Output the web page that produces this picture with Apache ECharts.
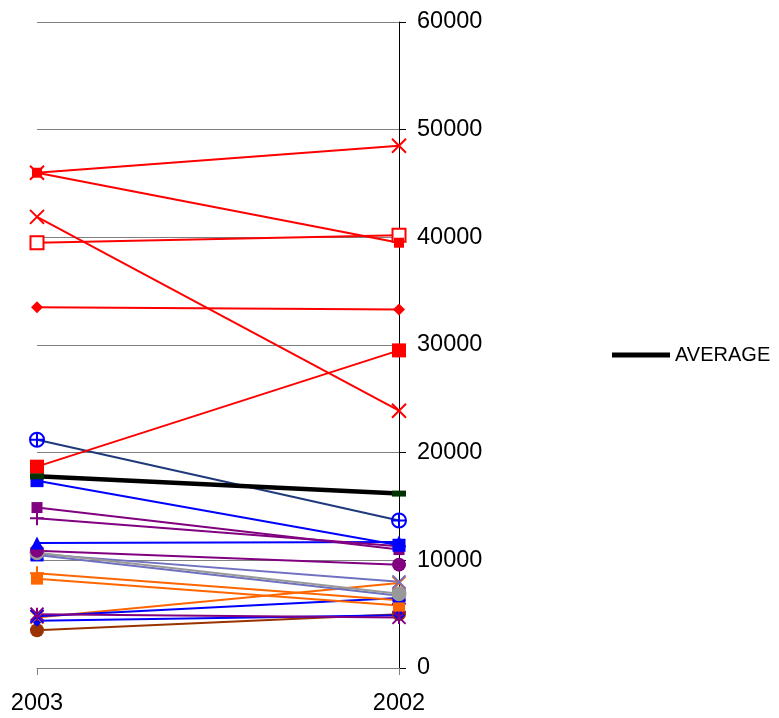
<!DOCTYPE html>
<html>
<head>
<meta charset="utf-8">
<script src="https://cdn.jsdelivr.net/npm/echarts@6/dist/echarts.min.js"></script>
<style>html,body{margin:0;padding:0;background:#fff}#c{width:779px;height:718px}</style>
</head>
<body>
<div id="c"></div>
<script>
const categories = ['2003', '2002'];
const yTicks = [0, 10000, 20000, 30000, 40000, 50000, 60000];

const redX1 = [46000, 48500];
const redSq1 = [46000, 39500];
const redX2 = [41900, 23900];
const redHollow = [39500, 40200];
const redDiamond = [33500, 33300];
const redSq2 = [18700, 29500];
const navyCirclePlus = [21200, 13700];
const blueSq1 = [17400, 11400];
const purpleSq = [14900, 11000];
const purplePlus = [13900, 11300];
const blueTriangle = [11600, 11700];
const purpleCircle = [10900, 9600];
const grayCircle = [10700, 6900];
const slateSq = [10500, 6700];
const slateX = [10600, 8000];
const orangePlus = [8800, 6300];
const orangeSq = [8300, 5800];
const purpleStar = [5000, 4700];
const blueX = [4800, 6500];
const orangeX = [4700, 7900];
const blueDiamond = [4400, 4900];
const brownCircle = [3500, 5000];
const average = [17800, 16200];

const X = 'path://M0,0L10,10M10,0L0,10';
const PLUS = 'path://M5,0L5,10M0,5L10,5';
const STAR = 'path://M0,0L10,10M10,0L0,10M5,0L5,10';
const CPLUS = 'path://M5,0A5,5,0,1,1,4.99,0M5,0L5,10M0,5L10,5';

function filled(name, data, color, symbol, size, lineColor) {
  return {
    name, type: 'line', data, symbol, symbolSize: size,
    lineStyle: { color: lineColor || color, width: 2 },
    itemStyle: { color },
    emphasis: { disabled: true }, silent: true, animation: false
  };
}
function stroked(name, data, color, symbol, size, lineColor) {
  return {
    name, type: 'line', data, symbol, symbolSize: size,
    lineStyle: { color: lineColor || color, width: 2 },
    itemStyle: { color: 'rgba(0,0,0,0)', borderColor: color, borderWidth: 2 },
    emphasis: { disabled: true }, silent: true, animation: false
  };
}

const RED = '#FF0000', BLUE = '#0000FF', PURPLE = '#800080', ORANGE = '#FF6600',
      BROWN = '#993300', GRAY = '#999999', SLATE = '#7070C0', NAVY = '#1F3A7A';

const series = [
  filled('s20', brownCircle, BROWN, 'circle', 14),
  filled('s19', blueDiamond, BLUE, 'diamond', 12),
  stroked('s18', orangeX, ORANGE, X, 13),
  stroked('s17', blueX, BLUE, X, 13),
  stroked('s16', purpleStar, PURPLE, STAR, 13),
  filled('s15', orangeSq, ORANGE, 'rect', 12),
  stroked('s14', orangePlus, ORANGE, PLUS, 14),
  stroked('s13', slateX, SLATE, X, 13),
  filled('s12', slateSq, BLUE, 'rect', 13, SLATE),
  filled('s11', grayCircle, GRAY, 'circle', 15),
  filled('s10', purpleCircle, PURPLE, 'circle', 14),
  filled('s9', blueTriangle, BLUE, 'triangle', 13),
  stroked('s8', purplePlus, PURPLE, PLUS, 14),
  filled('s7', purpleSq, PURPLE, 'rect', 11),
  filled('s6', blueSq1, BLUE, 'rect', 13),
  stroked('s5', navyCirclePlus, BLUE, CPLUS, 14, NAVY),
  filled('s4', redSq2, RED, 'rect', 14),
  filled('s3', redDiamond, RED, 'diamond', 12),
  {
    name: 's2', type: 'line', data: redHollow, symbol: 'emptyRect', symbolSize: 13,
    lineStyle: { color: RED, width: 2 }, itemStyle: { color: RED },
    emphasis: { disabled: true }, silent: true, animation: false
  },
  stroked('s1', redX2, RED, X, 14),
  filled('s0b', redSq1, RED, 'rect', 10),
  stroked('s0', redX1, RED, X, 14),
  {
    name: 'AVERAGE', type: 'line', data: average, symbol: 'rect', symbolSize: [14, 6],
    lineStyle: { color: '#000000', width: 4.5 }, itemStyle: { color: '#003300' },
    emphasis: { disabled: true }, silent: true, animation: false, z: 3
  }
];

const chart = echarts.init(document.getElementById('c'), null, { renderer: 'canvas' });
chart.setOption({
  animation: false,
  backgroundColor: '#ffffff',
  textStyle: { fontFamily: 'Liberation Sans, Arial, sans-serif' },
  grid: { left: 37, right: 380, top: 22, bottom: 50, containLabel: false },
  legend: {
    data: [{ name: 'AVERAGE', icon: 'rect', itemStyle: { color: '#000000' } }],
    left: 607, top: 340,
    itemWidth: 58, itemHeight: 5,
    textStyle: { color: '#000', fontSize: 20, fontFamily: 'Liberation Sans, Arial, sans-serif' },
    selectedMode: false
  },
  xAxis: {
    type: 'category', data: categories, boundaryGap: false,
    axisLine: { show: true, lineStyle: { color: '#808080', width: 1 } },
    axisTick: { show: true, length: 7, alignWithLabel: true, lineStyle: { color: '#808080' } },
    axisLabel: { color: '#000', fontSize: 23.5, margin: 24 },
    splitLine: { show: false }
  },
  yAxis: {
    type: 'value', position: 'right', min: yTicks[0], max: yTicks[yTicks.length - 1], interval: 10000,
    axisLine: { show: true, lineStyle: { color: '#000', width: 1 } },
    axisTick: { show: true, length: 7, inside: false, lineStyle: { color: '#000' } },
    axisLabel: { color: '#000', fontSize: 23.5, margin: 18, formatter: function (v) { return String(v); } },
    splitLine: { show: true, lineStyle: { color: '#808080', width: 1 } }
  },
  series
});
</script>
</body>
</html>
